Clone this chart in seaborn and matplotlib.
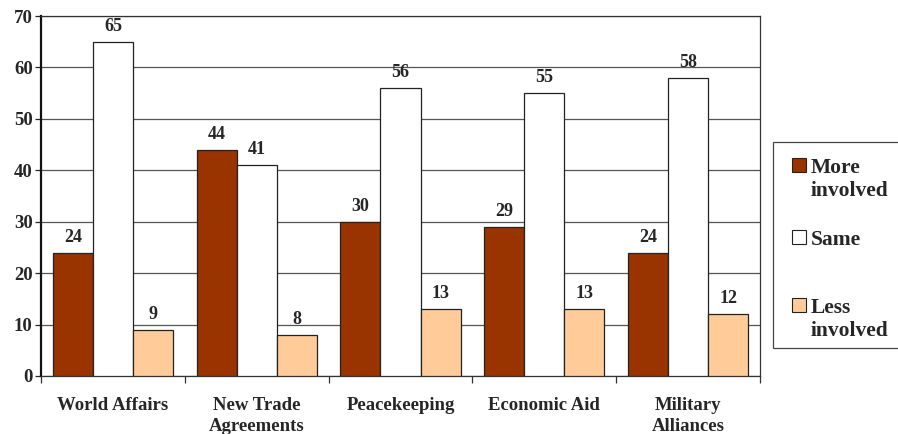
import matplotlib
matplotlib.use("Agg")
import matplotlib.pyplot as plt
import numpy as np
import pandas as pd
import seaborn as sns

# data
categories = ["World Affairs", "New Trade\nAgreements", "Peacekeeping", "Economic Aid", "Military\nAlliances"]
series = ["More\ninvolved", "Same", "Less\ninvolved"]
more_involved = [24, 44, 30, 29, 24]
same = [65, 41, 56, 55, 58]
less_involved = [9, 8, 13, 13, 12]
colors = ["#993300", "#FFFFFF", "#FFCC99"]

df = pd.DataFrame({
	"category": categories * 3,
	"series": [series[0]] * 5 + [series[1]] * 5 + [series[2]] * 5,
	"value": more_involved + same + less_involved,
})

sns.set_style("white")
plt.rcParams["font.family"] = ["Liberation Serif", "DejaVu Serif"]
plt.rcParams["font.weight"] = "bold"

W, H = 898, 434
fig = plt.figure(figsize=(W / 100, H / 100), dpi=100)
ax = fig.add_axes([41 / W, (H - 376) / H, 719 / W, 360 / H])

sns.barplot(
	data=df, x="category", y="value", hue="series",
	palette=colors, order=categories, hue_order=series,
	width=0.835, edgecolor="#222222", linewidth=0.9,
	saturation=1, ax=ax, legend=False, zorder=3,
)

for cont in ax.containers:
	ax.bar_label(cont, padding=5, fontsize=13, fontweight="bold")

ax.set_ylim(0, 70)
ax.set_yticks(range(0, 71, 10))
ax.set_xlim(-0.5, 4.5)
ax.yaxis.grid(True, color="#555555", linewidth=0.9, zorder=0)
ax.set_axisbelow(True)
ax.set_xlabel("")
ax.set_ylabel("")
for lbl in ax.get_yticklabels():
	lbl.set_fontweight("bold")
ax.tick_params(axis="y", labelsize=13.5, length=4, left=True, width=0.9, pad=2)
ax.tick_params(axis="x", labelsize=13.5, length=0, pad=15)
ax.set_xticks(range(5))
ax.set_xticklabels(categories, fontweight="bold", linespacing=1.3)
# tick marks between categories
ax.set_xticks(np.arange(-0.5, 5.0, 1.0), minor=True)
ax.tick_params(axis="x", which="minor", length=5, bottom=True, width=0.9, color="#333333")

for side in ["top", "right", "bottom"]:
	ax.spines[side].set_color("#333333")
	ax.spines[side].set_linewidth(0.9)
ax.spines["left"].set_color("#111111")
ax.spines["left"].set_linewidth(1.6)

# legend drawn by hand to match the uneven spacing of the original
def fx(px):
	return px / W

def fy(py):
	return (H - py) / H

fig.patches.append(plt.Rectangle((fx(773), fy(348)), fx(140), (348 - 142) / H,
	transform=fig.transFigure, facecolor="white", edgecolor="#444444", linewidth=0.9))
legend_y = [165, 237, 305]
for label, color, y in zip(series, colors, legend_y):
	fig.patches.append(plt.Rectangle((fx(792), fy(y + 7)), fx(14), 14 / H,
		transform=fig.transFigure, facecolor=color, edgecolor="#222222", linewidth=0.8))
	fig.text(fx(811), fy(y - 7), label, ha="left", va="top", fontsize=15.5,
		fontweight="bold", linespacing=1.2)

fig.savefig("out.png", dpi=100)
